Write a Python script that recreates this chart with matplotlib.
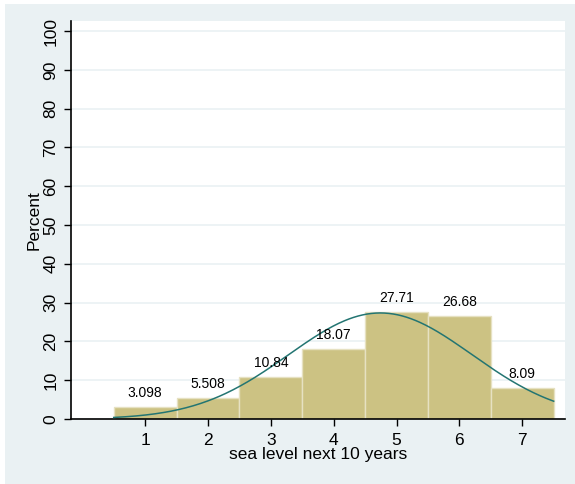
import numpy as np
import matplotlib
matplotlib.use('Agg')
from matplotlib import pyplot as plt
from matplotlib.patches import Rectangle

# histogram data (percent per category)
categories = [1, 2, 3, 4, 5, 6, 7]
percents = [3.098, 5.508, 10.84, 18.07, 27.71, 26.68, 8.09]
yticks = [0, 10, 20, 30, 40, 50, 60, 70, 80, 90, 100]

plt.rcParams['font.family'] = ['Liberation Sans', 'DejaVu Sans']

W, H = 575, 484
fig = plt.figure(figsize=(W / 100, H / 100), dpi=100, facecolor='white')
# outer bluish-gray graph region
fig.patches.append(Rectangle((5 / W, 0), 1 - 5 / W, 1 - 4 / H, transform=fig.transFigure,
                             facecolor='#EAF1F3', edgecolor='none', zorder=-1))

ax = fig.add_axes([71 / W, 1 - 419 / H, (565 - 71) / W, (419 - 21) / H])
ax.set_facecolor('white')

ax.bar(categories, percents, width=1.0, color='#CCC283', edgecolor='#E6E1C2',
       linewidth=1, zorder=2)
for c, p in zip(categories, percents):
    ax.text(c, p + 1.8, '%g' % p, ha='center', va='bottom', fontsize=10, zorder=4)

# normal density overlay from the histogram values
cats = np.array(categories, dtype=float)
w = np.array(percents) / sum(percents)
mu = (cats * w).sum()
sd = np.sqrt(((cats - mu) ** 2 * w).sum())
xs = np.linspace(0.5, 7.5, 300)
ys = 100 * np.exp(-0.5 * ((xs - mu) / sd) ** 2) / (sd * np.sqrt(2 * np.pi))
ax.plot(xs, ys, color='#237572', linewidth=1.1, zorder=3)

ax.set_xlim(-0.18, 7.68)
ax.set_ylim(0, 102.6)
ax.set_xticks(categories)
ax.set_yticks(yticks)
ax.set_yticklabels([str(t) for t in yticks], rotation=90, va='center')
ax.tick_params(axis='both', labelsize=12.5, length=5, width=1, direction='out', colors='black')
ax.tick_params(axis='x', pad=5)
ax.tick_params(axis='y', pad=4)
ax.grid(axis='y', color='#EAF1F3', linewidth=1.2, zorder=0)
ax.set_axisbelow(True)
for s in ['top', 'right']:
    ax.spines[s].set_visible(False)
ax.spines['left'].set_linewidth(1.2)
ax.spines['bottom'].set_linewidth(1.2)

ax.set_xlabel('sea level next 10 years', fontsize=12.5, labelpad=-1)
ax.set_ylabel('Percent', fontsize=12.5, labelpad=1)

fig.savefig('out.png', dpi=100, facecolor=fig.get_facecolor())
